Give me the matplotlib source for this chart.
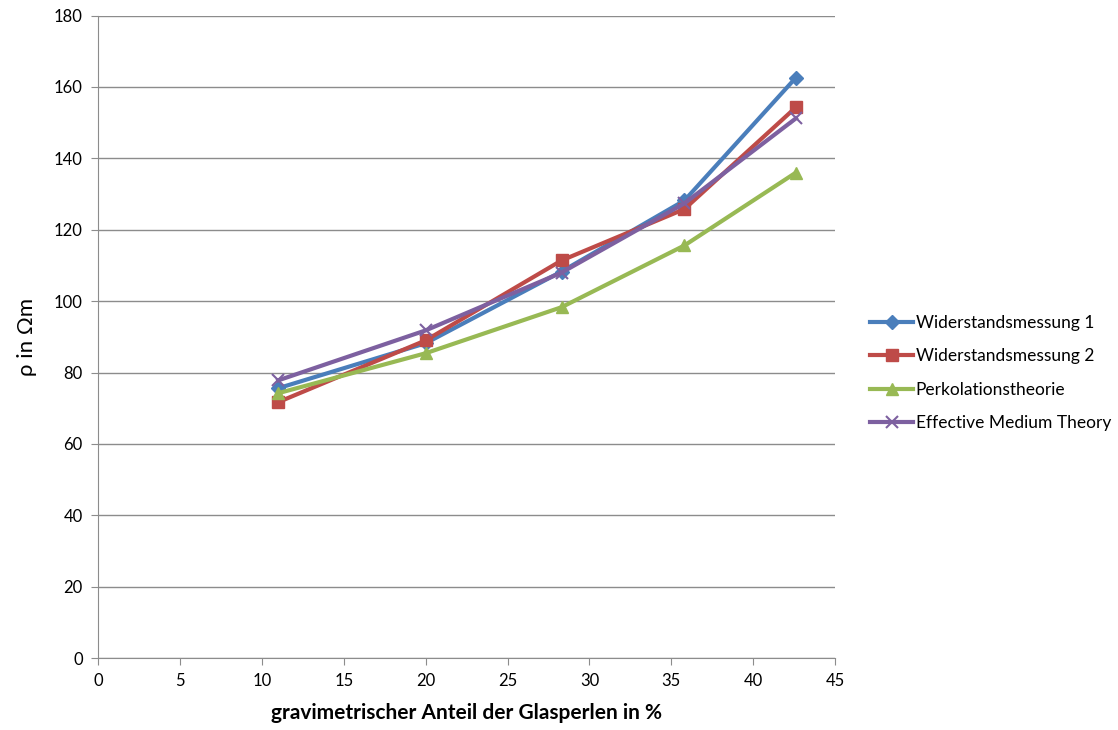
import matplotlib
matplotlib.use("Agg")
import matplotlib.pyplot as plt

plt.rcParams['font.family'] = ['Lato', 'DejaVu Sans']

x_values = [11.0, 20.0, 28.3, 35.8, 42.6]
messung1 = [75.6, 88.2, 108.3, 128.2, 162.6]
messung2 = [71.7, 89.0, 111.4, 125.8, 154.3]
perkolation = [74.2, 85.4, 98.3, 115.6, 136.0]
emt = [77.8, 91.8, 108.0, 127.4, 151.2]

series_names = ["Widerstandsmessung 1", "Widerstandsmessung 2",
                "Perkolationstheorie", "Effective Medium Theory"]
x_ticks = [0, 5, 10, 15, 20, 25, 30, 35, 40, 45]
y_ticks = [0, 20, 40, 60, 80, 100, 120, 140, 160, 180]

fig = plt.figure(figsize=(11.18, 7.30), dpi=100)
ax = fig.add_axes([0.0877, 0.0986, 0.6593, 0.880])

styles = [
    dict(color="#4A7EBB", marker="D", markersize=7),
    dict(color="#BE4B48", marker="s", markersize=9),
    dict(color="#98B954", marker="^", markersize=9),
    dict(color="#7D60A0", marker="x", markersize=9, markeredgewidth=1.5),
]
for name, ys, st in zip(series_names, [messung1, messung2, perkolation, emt], styles):
    ax.plot(x_values, ys, label=name, linewidth=3, **st)

ax.set_xlim(0, 45)
ax.set_ylim(0, 180)
ax.set_xticks(x_ticks)
ax.set_yticks(y_ticks)
ax.yaxis.grid(True, color="#8C8C8C", linewidth=1)
ax.set_axisbelow(True)
for s in ("top", "right"):
    ax.spines[s].set_visible(False)
for s in ("left", "bottom"):
    ax.spines[s].set_color("#8C8C8C")
ax.tick_params(direction="out", color="#8C8C8C", length=5, labelsize=12, pad=6)

ax.set_xlabel("gravimetrischer Anteil der Glasperlen in %", fontsize=15,
              fontweight="bold", labelpad=10)
ax.set_ylabel("ρ in Ωm", fontsize=16, labelpad=12)

fig.legend(loc="center left", bbox_to_anchor=(0.778, 0.489), frameon=False,
           fontsize=12.5, handlelength=2.5, labelspacing=1.0, handletextpad=0.15,
           borderpad=0, borderaxespad=0)

fig.savefig("out.png", dpi=100)
